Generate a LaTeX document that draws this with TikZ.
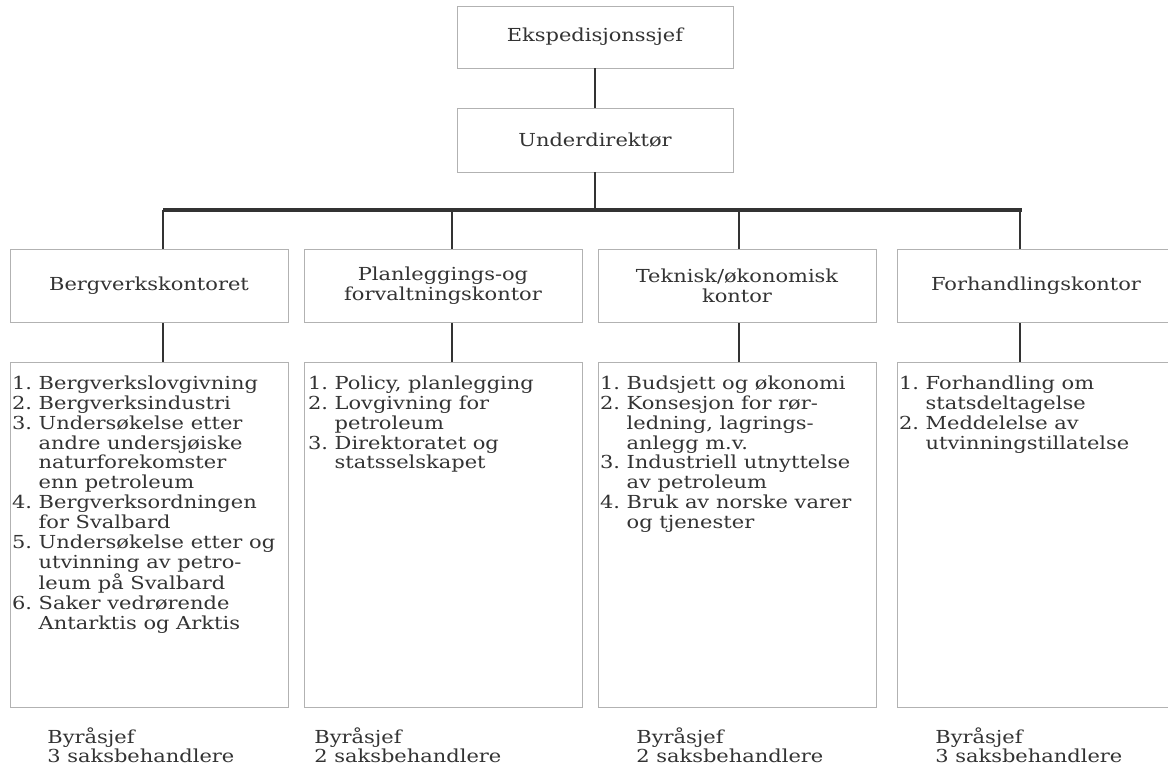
\documentclass[tikz,border=0pt]{standalone}
\usepackage{fontspec}
\setmainfont[FakeStretch=1.17]{DejaVu Serif}
\usetikzlibrary{calc}

\begin{document}
\begin{tikzpicture}[x=0.02cm,y=-0.02cm,
	every node/.style={text=black!80,font=\fontsize{10.2}{11.3}\selectfont},
	box/.style={draw=black!30,line width=0.4pt,minimum width=5.56cm},
	head/.style={box,minimum height=1.46cm,align=center},
	list/.style={box,minimum height=6.9cm},
	items/.style={anchor=north west,inner sep=0pt,align=left},
	staff/.style={anchor=north west,inner sep=0pt,align=left},
	link/.style={draw=black!80,line width=1.4pt}]
	\useasboundingbox (0,0) rectangle (1168,769);
	\clip (0,0) rectangle (1168,769);

	\draw (595,37) node (eks) [box,minimum width=5.52cm,minimum height=1.24cm] {Ekspedisjonssjef};
	\draw (595,140) node (und) [box,minimum width=5.52cm,minimum height=1.28cm] {Underdirektør};
	\draw[link] (eks) -- (und);

	% the bar and its drops
	\coordinate (b1) at (163,210);
	\coordinate (b2) at (452,210);
	\coordinate (b3) at (739,210);
	\coordinate (b4) at (1020,210);
	\draw[link] (und.south) -- (und.south |- b1);
	\draw[link,line width=1.8pt] (b1) -- ($(b4)+(2,0)$);

	\draw (149,286) node (h1) [head] {Bergverkskontoret};
	\draw (443,286) node (h2) [head] {Planleggings-og\\forvaltningskontor};
	\draw (737,286) node (h3) [head] {Teknisk/økonomisk\\kontor};
	\draw (1036,286) node (h4) [head] {Forhandlingskontor};

	\draw (149,535) node (l1) [list] {};
	\draw (443,535) node (l2) [list] {};
	\draw (737,535) node (l3) [list] {};
	\draw (1036,535) node (l4) [list] {};

	\foreach \i in {1,...,4} {
		\draw[link] (b\i) -- (b\i |- h\i.north);
		\draw[link] (h\i.south -| b\i) -- (l\i.north -| b\i);
	}

	\node (t1) [items] at ($(l1.north west)+(2,13)$) {\begin{tabular}{@{}l@{~}l@{}}
		1. & Bergverkslovgivning\\
		2. & Bergverksindustri\\
		3. & Undersøkelse etter\\
		   & andre undersjøiske\\
		   & naturforekomster\\
		   & enn petroleum\\
		4. & Bergverksordningen\\
		   & for Svalbard\\
		5. & Undersøkelse etter og\\
		   & utvinning av petro-\\
		   & leum på Svalbard\\
		6. & Saker vedrørende\\
		   & Antarktis og Arktis
	\end{tabular}};
	\node (t2) [items] at ($(l2.north west)+(4,13)$) {\begin{tabular}{@{}l@{~}l@{}}
		1. & Policy, planlegging\\
		2. & Lovgivning for\\
		   & petroleum\\
		3. & Direktoratet og\\
		   & statsselskapet
	\end{tabular}};
	\node (t3) [items] at ($(l3.north west)+(2,13)$) {\begin{tabular}{@{}l@{~}l@{}}
		1. & Budsjett og økonomi\\
		2. & Konsesjon for rør-\\
		   & ledning, lagrings-\\
		   & anlegg m.v.\\
		3. & Industriell utnyttelse\\
		   & av petroleum\\
		4. & Bruk av norske varer\\
		   & og tjenester
	\end{tabular}};
	\node (t4) [items] at ($(l4.north west)+(2,13)$) {\begin{tabular}{@{}l@{~}l@{}}
		1. & Forhandling om\\
		   & statsdeltagelse\\
		2. & Meddelelse av\\
		   & utvinningstillatelse
	\end{tabular}};

	\node (s1) [staff] at (47,727) {Byråsjef\\3 saksbehandlere};
	\node (s2) [staff] at (314,727) {Byråsjef\\2 saksbehandlere};
	\node (s3) [staff] at (636,727) {Byråsjef\\2 saksbehandlere};
	\node (s4) [staff] at (935,727) {Byråsjef\\3 saksbehandlere};
\end{tikzpicture}
\end{document}
